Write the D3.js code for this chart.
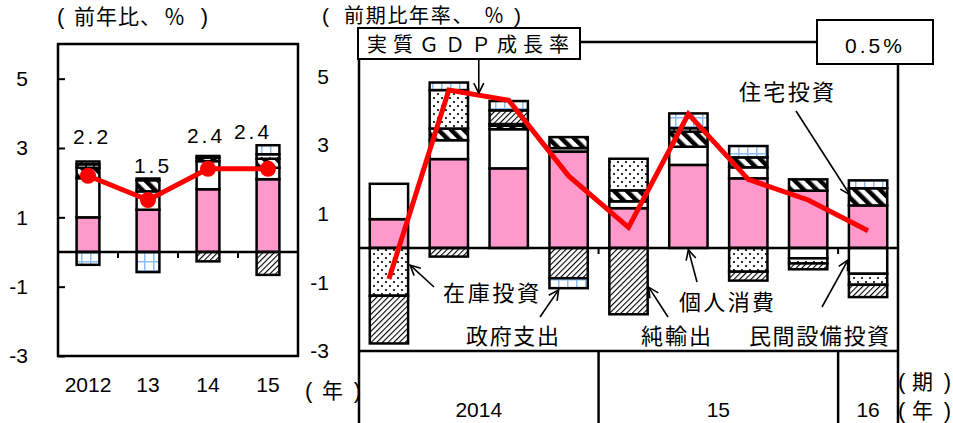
<!DOCTYPE html>
<html>
<head>
<meta charset="utf-8">
<script src="https://cdn.jsdelivr.net/npm/d3@7"></script>
<style>
  body { margin: 0; background: #fff; }
  svg { display: block; }
  text { font-family: "Liberation Sans", Arial, sans-serif; fill: #000; }
  .jp { font-family: "Noto Sans CJK JP", sans-serif; }
</style>
</head>
<body>
<svg id="chart" width="953" height="423"></svg>
<script>
(function () {
  "use strict";

  // ---- data (寄与度, %pt) ----
  const seriesKeys = ["個人消費", "民間設備投資", "住宅投資", "在庫投資", "純輸出", "政府支出"];

  const years      = ["2012", "13", "14", "15"];
  const annPce     = [1.00, 1.22, 1.81, 2.10];
  const annNonres  = [1.13, 0.53, 0.81, 0.33];
  const annResid   = [0.30, 0.32, 0.10, 0.26];
  const annInv     = [0.10, 0.05, 0.05, 0.13];
  const annNx      = [0.08, 0.00, -0.27, -0.66];
  const annGov     = [-0.37, -0.58, 0.00, 0.26];
  const annGdp     = [2.2, 1.5, 2.4, 2.4];
  const annGdpText = ["2.2", "1.5", "2.4", "2.4"];

  const quarters   = ["14Q1", "14Q2", "14Q3", "14Q4", "15Q1", "15Q2", "15Q3", "15Q4", "16Q1"];
  const qPce       = [0.84, 2.59, 2.32, 2.81, 1.16, 2.42, 2.03, 1.67, 1.24];
  const qNonres    = [1.03, 0.55, 1.14, 0.10, 0.20, 0.53, 0.32, -0.30, -0.75];
  const qResid     = [0.00, 0.34, 0.10, 0.32, 0.32, 0.44, 0.29, 0.33, 0.50];
  const qInv       = [-1.39, 1.12, 0.05, 0.00, 0.92, 0.10, -0.69, -0.15, -0.32];
  const qNx        = [-1.39, -0.25, 0.40, -0.88, -1.93, 0.00, -0.26, -0.17, -0.36];
  const qGov       = [0.00, 0.22, 0.27, -0.29, 0.00, 0.43, 0.33, 0.00, 0.23];
  const qGdp       = [-0.9, 4.6, 4.3, 2.1, 0.6, 3.9, 2.0, 1.4, 0.5];

  const yearGroups = [["2014", 0, 3], ["15", 4, 7], ["16", 8, 8]];
  const yTicks     = [5, 3, 1, -1, -3];

  // ---- styles ----
  const fills = {
    "個人消費": "#ff99cc",
    "民間設備投資": "#ffffff",
    "住宅投資": "url(#pResid)",
    "在庫投資": "url(#pInv)",
    "純輸出": "url(#pNx)",
    "政府支出": "url(#pGov)"
  };
  const RED = "#ff0000";

  const svg = d3.select("#chart");
  const defs = svg.append("defs");

  function pat(id, w, h, rot) {
    const p = defs.append("pattern").attr("id", id)
      .attr("patternUnits", "userSpaceOnUse").attr("width", w).attr("height", h);
    if (rot) p.attr("patternTransform", `rotate(${rot})`);
    p.append("rect").attr("width", w).attr("height", h).attr("fill", "#fff");
    return p;
  }
  pat("pResid", 9, 9, -45).append("rect").attr("width", 4.5).attr("height", 9).attr("fill", "#000");
  pat("pNx", 4, 4, 45).append("rect").attr("width", 1.1).attr("height", 4).attr("fill", "#000");
  const pInv = pat("pInv", 8, 8);
  pInv.append("circle").attr("cx", 2).attr("cy", 2).attr("r", 1.1).attr("fill", "#000");
  pInv.append("circle").attr("cx", 6).attr("cy", 6).attr("r", 1.1).attr("fill", "#000");
  pat("pGov", 9, 9).append("path").attr("d", "M0,0.75H9M0.75,0V9")
    .attr("stroke", "#8bbdf0").attr("stroke-width", 1.5).attr("fill", "none");

  defs.append("marker").attr("id", "arr")
    .attr("viewBox", "0 0 12 12").attr("refX", 11).attr("refY", 6)
    .attr("markerWidth", 12).attr("markerHeight", 12)
    .attr("markerUnits", "userSpaceOnUse").attr("orient", "auto")
    .append("path").attr("d", "M1,1L11,6L1,11").attr("fill", "none")
    .attr("stroke", "#000").attr("stroke-width", 1.6);

  function rows(cats, arrs) {
    return cats.map((c, i) => {
      const r = { cat: c };
      seriesKeys.forEach((k, j) => r[k] = arrs[j][i]);
      return r;
    });
  }

  function drawBars(g, data, x, y) {
    const stacked = d3.stack().keys(seriesKeys).offset(d3.stackOffsetDiverging)(data);
    stacked.forEach(layer => {
      g.append("g").selectAll("rect")
        .data(layer.filter(d => d[1] !== d[0]))
        .join("rect")
        .attr("x", d => x(d.data.cat))
        .attr("width", x.bandwidth())
        .attr("y", d => y(Math.max(d[0], d[1])))
        .attr("height", d => Math.abs(y(d[0]) - y(d[1])))
        .attr("fill", fills[layer.key])
        .attr("stroke", "#000")
        .attr("stroke-width", 2.5);
    });
  }

  // textLength spreads the spacing only, glyphs keep their shape
  const jpText = (x, y, s, size, len) => {
    const t = svg.append("text").attr("class", "jp").attr("x", x).attr("y", y)
      .style("font-size", size + "px").text(s);
    if (len) t.attr("textLength", len).attr("lengthAdjust", "spacing");
    return t;
  };

  // "( ... )" label: open paren at x0, close paren ending at x1, inner pieces at own x
  function parenLabel(x0, x1, y, pieces, size) {
    svg.append("text").attr("x", x0).attr("y", y).style("font-size", (size + 1) + "px").text("(");
    svg.append("text").attr("x", x1).attr("y", y).attr("text-anchor", "end")
      .style("font-size", (size + 1) + "px").text(")");
    pieces.forEach(p => {
      const t = jpText(p[0], y, p[1], size);
      if (p[2]) t.style("letter-spacing", p[2] + "px");
    });
  }

  // ======== left panel: annual ========
  const L = { x0: 58, x1: 298, y0: 44, y1: 356 };
  const xL = d3.scaleBand().domain(years).range([L.x0, L.x1]).paddingInner(0.62).paddingOuter(0.31);
  const yL = d3.scaleLinear().domain([-3, 6]).range([L.y1, L.y0]);
  const gL = svg.append("g");

  drawBars(gL, rows(years, [annPce, annNonres, annResid, annInv, annNx, annGov]), xL, yL);

  gL.append("line").attr("x1", L.x0).attr("x2", L.x1)
    .attr("y1", yL(0)).attr("y2", yL(0)).attr("stroke", "#000").attr("stroke-width", 2.5);
  years.slice(1).forEach((c, i) => {
    const xm = (xL(years[i]) + xL(c) + xL.bandwidth()) / 2;
    gL.append("line").attr("x1", xm).attr("x2", xm)
      .attr("y1", yL(0)).attr("y2", yL(0) + 6).attr("stroke", "#000").attr("stroke-width", 2);
  });

  gL.append("g").attr("transform", `translate(${L.x0},0)`)
    .call(d3.axisLeft(yL).tickValues(yTicks).tickSize(-7).tickPadding(30).tickFormat(d => String(d)))
    .call(a => a.select(".domain").remove())
    .call(a => a.selectAll("line").attr("stroke-width", 2))
    .call(a => a.selectAll("text").attr("font-family", null).style("font-size", "21px"));

  gL.append("rect").attr("x", L.x0).attr("y", L.y0)
    .attr("width", L.x1 - L.x0).attr("height", L.y1 - L.y0)
    .attr("fill", "none").attr("stroke", "#000").attr("stroke-width", 2.5);

  gL.append("g").attr("transform", `translate(0,${L.y1})`)
    .call(d3.axisBottom(xL).tickSize(0).tickPadding(21))
    .call(a => a.select(".domain").remove())
    .call(a => a.selectAll("text").attr("font-family", null).style("font-size", "21px"));

  const cx = c => xL(c) + xL.bandwidth() / 2;
  const annPts = years.map((c, i) => ({ cat: c, v: annGdp[i] }));
  gL.append("path").datum(annPts)
    .attr("d", d3.line().x(d => cx(d.cat)).y(d => yL(d.v)))
    .attr("fill", "none").attr("stroke", RED).attr("stroke-width", 5);
  gL.selectAll("circle.pt").data(annPts).join("circle").attr("class", "pt")
    .attr("cx", d => cx(d.cat)).attr("cy", d => yL(d.v)).attr("r", 8).attr("fill", RED);

  const lblDx = [4, 5, -2, -15], lblDy = [-32, -27, -26, -30];
  gL.selectAll("text.val").data(annPts).join("text").attr("class", "val")
    .attr("x", (d, i) => cx(d.cat) + lblDx[i]).attr("y", (d, i) => yL(d.v) + lblDy[i])
    .attr("text-anchor", "middle").style("font-size", "21px").style("letter-spacing", "3px")
    .text((d, i) => annGdpText[i]);

  parenLabel(57, 208, 24, [[74, "前年比、", 1], [164, "％"]], 21);
  parenLabel(305, 361, 398, [[322, "年"]], 21);

  // ======== right panel: quarterly ========
  const R = { x0: 359, x1: 898, y0: 42, y1: 351 };
  const xR = d3.scaleBand().domain(quarters).range([R.x0, R.x1]).paddingInner(0.36).paddingOuter(0.18);
  const yR = d3.scaleLinear().domain([-3, 6]).range([R.y1, R.y0]);
  const gR = svg.append("g");

  drawBars(gR, rows(quarters, [qPce, qNonres, qResid, qInv, qNx, qGov]), xR, yR);

  gR.append("line").attr("x1", R.x0).attr("x2", R.x1)
    .attr("y1", yR(0)).attr("y2", yR(0)).attr("stroke", "#000").attr("stroke-width", 2.5);

  gR.append("g").attr("transform", `translate(${R.x0},0)`)
    .call(d3.axisLeft(yR).tickValues(yTicks).tickSize(0).tickPadding(30).tickFormat(d => String(d)))
    .call(a => a.select(".domain").remove())
    .call(a => a.selectAll("text").attr("font-family", null).style("font-size", "21px"));

  const qcx = i => xR(quarters[i]) + xR.bandwidth() / 2;
  const qEdge = i => xR(quarters[i]) + xR.bandwidth() + (xR.step() - xR.bandwidth()) / 2;

  // frame
  const frame = [
    [R.x0, 59, R.x0, 423],
    [580, R.y0, 817, R.y0],
    [R.x1, 64, R.x1, 423],
    [R.x0, R.y1, R.x1, R.y1]
  ];
  yearGroups.slice(0, -1).forEach(g => frame.push([qEdge(g[2]), R.y1, qEdge(g[2]), 423]));
  gR.selectAll("line.frame").data(frame).join("line").attr("class", "frame")
    .attr("x1", d => d[0]).attr("y1", d => d[1]).attr("x2", d => d[2]).attr("y2", d => d[3])
    .attr("stroke", "#000").attr("stroke-width", 2.5);
  yearGroups.slice(0, -1).forEach(g => {
    gR.append("line").attr("x1", qEdge(g[2])).attr("x2", qEdge(g[2]))
      .attr("y1", yR(0)).attr("y2", yR(0) + 6).attr("stroke", "#000").attr("stroke-width", 2);
  });

  gR.selectAll("text.yr").data(yearGroups).join("text").attr("class", "yr")
    .attr("x", d => (xR(quarters[d[1]]) - (xR.step() - xR.bandwidth()) / 2 + qEdge(d[2])) / 2)
    .attr("y", 417).attr("text-anchor", "middle").style("font-size", "21px")
    .text(d => d[0]);

  const qPts = quarters.map((c, i) => ({ i, v: qGdp[i] }));
  gR.append("path").datum(qPts)
    .attr("d", d3.line().x(d => qcx(d.i)).y(d => yR(d.v)))
    .attr("fill", "none").attr("stroke", RED).attr("stroke-width", 5)
    .attr("stroke-linejoin", "miter");

  // title boxes
  svg.append("rect").attr("x", 358).attr("y", 28).attr("width", 222).attr("height", 31)
    .attr("fill", "#fff").attr("stroke", "#000").attr("stroke-width", 2);
  jpText(367, 52, "実質ＧＤＰ成長率", 20, 202);
  svg.append("rect").attr("x", 817).attr("y", 20).attr("width", 116).attr("height", 44)
    .attr("fill", "#fff").attr("stroke", "#000").attr("stroke-width", 2);
  svg.append("text").attr("x", 875).attr("y", 53).attr("text-anchor", "middle")
    .style("font-size", "21px").style("letter-spacing", "3px").text("0.5%");

  parenLabel(322, 521, 23, [[344, "前期比年率、", 1.7], [484, "％"]], 20);
  parenLabel(898, 951, 389, [[912, "期"]], 21);
  parenLabel(898, 951, 418, [[912, "年"]], 21);

  // annotations: label, text x, baseline, width, arrow start, arrow target
  const ann = [
    { s: "住宅投資",     tx: 739, ty: 100, w: 95,  a: [796, 111], t: [xR(quarters[8]) + 1, yR(1.55)] },
    { s: "在庫投資",     tx: 443, ty: 301, w: 96,  a: [434, 287], t: [xR(quarters[0]) + xR.bandwidth() + 2, yR(-0.5)] },
    { s: "政府支出",     tx: 466, ty: 344, w: 93,  a: [540, 317], t: [qcx(3) - 10, yR(-1.22)] },
    { s: "純輸出",       tx: 641, ty: 344, w: 70,  a: [668, 317], t: [xR(quarters[4]) + xR.bandwidth() + 1, yR(-1.14)] },
    { s: "個人消費",     tx: 679, ty: 310, w: 95,  a: [697, 282], t: [qcx(5), yR(-0.05)] },
    { s: "民間設備投資", tx: 749, ty: 344, w: 140, a: [822, 307], t: [xR(quarters[8]) - 1, yR(-0.35)] },
    { s: null, a: [(qcx(1) + qcx(2)) / 2, 59], t: [(qcx(1) + qcx(2)) / 2, yR((qGdp[1] + qGdp[2]) / 2) - 2] }
  ];
  ann.forEach(d => {
    svg.append("line").attr("x1", d.a[0]).attr("y1", d.a[1]).attr("x2", d.t[0]).attr("y2", d.t[1])
      .attr("stroke", "#000").attr("stroke-width", 1.6).attr("marker-end", "url(#arr)");
    if (d.s) jpText(d.tx, d.ty, d.s, 22, d.w);
  });
})();
</script>
</body>
</html>
